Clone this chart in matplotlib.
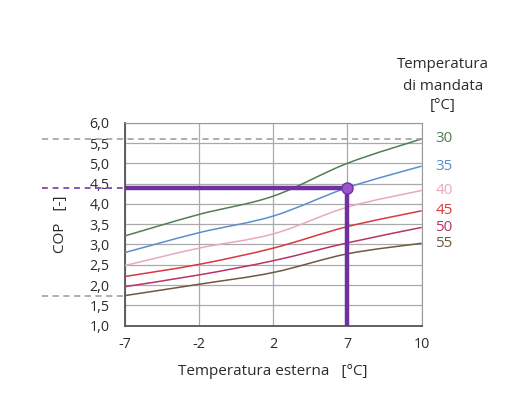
import numpy as np
import matplotlib
matplotlib.use("Agg")
import matplotlib.pyplot as plt
from matplotlib.path import Path
from matplotlib.patches import PathPatch
import matplotlib.transforms as mtransforms

plt.rcParams["font.family"] = ["Open Sans", "DejaVu Sans"]

# external temperature categories (evenly spaced on the chart)
t_esterna = ["-7", "-2", "2", "7", "10"]

# COP curves per supply temperature
cop_30 = [3.21, 3.74, 4.19, 5.00, 5.60]
cop_35 = [2.80, 3.29, 3.70, 4.40, 4.93]
cop_40 = [2.48, 2.91, 3.26, 3.92, 4.33]
cop_45 = [2.21, 2.51, 2.91, 3.44, 3.83]
cop_50 = [1.96, 2.25, 2.60, 3.04, 3.42]
cop_55 = [1.74, 2.02, 2.31, 2.77, 3.03]

mandata = ["30", "35", "40", "45", "50", "55"]
colors = ["#4f7f52", "#5b8fcb", "#e8a9c0", "#d9383f", "#b8336a", "#6e5a3e"]

# operating point: 7 degC external, 35 degC supply
op_index = 3
op_cop = cop_35[op_index]

yticks = np.arange(1.0, 6.01, 0.5)
purple = "#7030a0"
text_col = "#2b2b2b"


def smooth_path(xs, ys):
    # Excel-style smoothed line drawn as cubic bezier segments
    pts = np.column_stack([xs, ys])
    verts = [pts[0]]
    codes = [Path.MOVETO]
    n = len(pts)
    for i in range(n - 1):
        p0 = pts[max(i - 1, 0)]
        p1 = pts[i]
        p2 = pts[i + 1]
        p3 = pts[min(i + 2, n - 1)]
        verts += [p1 + (p2 - p0) / 6, p2 - (p3 - p1) / 6, p2]
        codes += [Path.CURVE4] * 3
    return Path(verts, codes)


fig = plt.figure(figsize=(5.25, 3.98), dpi=100)
ax = fig.add_axes([0.2375, 0.1817, 0.5655, 0.51])

x = np.arange(len(t_esterna))
series = [cop_30, cop_35, cop_40, cop_45, cop_50, cop_55]

for vals, col, lab in zip(series, colors, mandata):
    ax.add_patch(PathPatch(smooth_path(x, vals), fill=False, edgecolor=col, lw=1.1, zorder=3))
    ax.annotate(lab, xy=(x[-1], vals[-1]), xytext=(10, 0), textcoords="offset points",
                ha="left", va="center", color=col, fontsize=11, annotation_clip=False)

for txt, ypx in zip(["Temperatura", "di mandata", "[°C]"], [64, 87, 106]):
    fig.text(443 / 525, 1 - ypx / 398, txt, ha="center", va="center", fontsize=10.8, color=text_col)

# guide lines for max / min COP, running out past the axis
trans = mtransforms.blended_transform_factory(ax.transAxes, ax.transData)
ax.plot([-0.28, 1.0], [max(cop_30), max(cop_30)], transform=trans, clip_on=False,
        color="#999999", ls=(0, (4, 3)), lw=1.1, zorder=4)
ax.plot([-0.28, 0.0], [min(cop_55), min(cop_55)], transform=trans, clip_on=False,
        color="#999999", ls=(0, (4, 3)), lw=1.1, zorder=4)
ax.plot([-0.28, 0.0], [op_cop, op_cop], transform=trans, clip_on=False,
        color="#8a55c0", ls=(0, (3, 2.5)), lw=1.4, zorder=4)

# operating point lines
ax.plot([x[0], x[op_index]], [op_cop, op_cop], color=purple, lw=3.2, zorder=5, solid_capstyle="butt")
ax.plot([x[op_index], x[op_index]], [op_cop, yticks[0]], color=purple, lw=3.2, zorder=5,
        solid_capstyle="butt")
ax.plot([x[op_index]], [op_cop], "o", ms=8, mfc="#9b55d2", mec=purple, mew=1, zorder=6)

ax.set_xlim(x[0], x[-1])
ax.set_ylim(yticks[0], yticks[-1])
ax.set_xticks(x)
ax.set_xticklabels(t_esterna)
ax.set_yticks(yticks)
ax.set_yticklabels([f"{v:.1f}".replace(".", ",") for v in yticks])
ax.tick_params(length=0, labelsize=10.3, labelcolor=text_col)
ax.tick_params(axis="y", pad=11)
ax.tick_params(axis="x", pad=8)
ax.grid(True, color="#aaaaaa", lw=0.9)
ax.set_axisbelow(True)
for side in ["top", "right"]:
    ax.spines[side].set_color("#999999")
for side in ["left", "bottom"]:
    ax.spines[side].set_color("#555555")
    ax.spines[side].set_linewidth(1.3)

ax.set_xlabel("Temperatura esterna   [°C]", fontsize=11, color=text_col, labelpad=9)
ax.set_ylabel("COP   [-]", fontsize=11, color=text_col, labelpad=15)

fig.savefig("out.png", dpi=100, facecolor="white")
